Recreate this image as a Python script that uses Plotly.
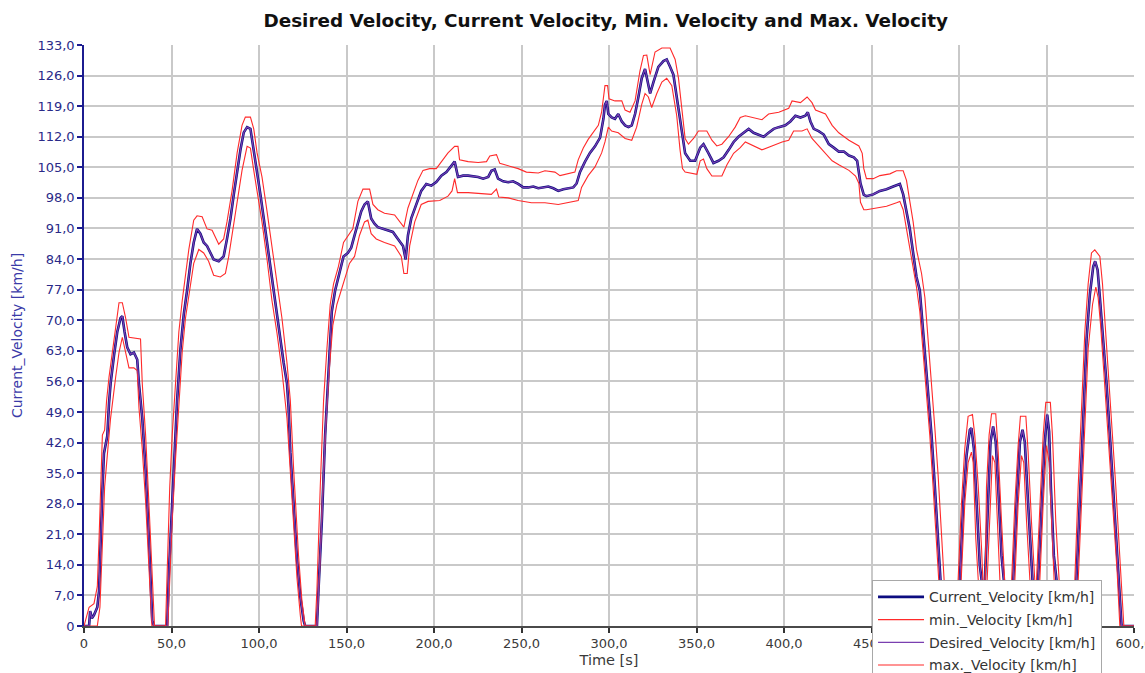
import plotly.graph_objects as go

# ---------------- data ----------------
current_time = [0, 2.9, 3.5, 4.5, 5.7, 7.6, 8.6, 9.5, 10.5, 11.4, 12.4, 13.3, 14.3, 15.2, 17.1, 19.0, 20.9, 21.9,
                23.2, 24.7, 26.6, 28.5, 30.4, 31.4, 33.3, 35.2, 37.1, 38.0, 39.0, 40.0, 47.5, 48.5, 49.8, 51.3,
                53.2, 55.1, 57.0, 58.9, 60.8, 62.7, 64.6, 66.5, 68.4, 70.3, 72.2, 74.1, 77.0, 79.8, 81.7, 83.7,
                85.6, 87.5, 89.4, 91.3, 93.2, 95.1, 97.0, 98.9, 100.8, 102.7, 104.6, 106.5, 108.4, 110.3, 112.2,
                114.1, 116.0, 116.9, 117.9, 119.8, 121.7, 123.6, 125.5, 126.4, 133.1, 134.0, 135.9, 137.8, 139.7,
                141.6, 143.5, 145.4, 148.3, 150.8, 152.7, 154.6, 156.5, 158.4, 160.3, 162.2, 164.1, 166.0, 167.9,
                170.8, 173.7, 176.5, 179.4, 182.3, 183.8, 185.1, 187.0, 189.9, 192.7, 195.6, 198.5, 201.3, 204.2,
                207.1, 210.0, 211.8, 213.7, 216.6, 219.5, 222.4, 225.2, 228.1, 231.0, 232.8, 234.7, 236.6, 239.5,
                242.4, 245.2, 248.1, 251.0, 253.9, 256.7, 259.6, 262.4, 265.3, 268.2, 271.0, 273.9, 276.8, 279.6,
                281.5, 283.4, 286.3, 289.1, 292.0, 294.9, 296.8, 297.7, 298.7, 299.6, 301.5, 303.4, 305.3, 307.3,
                309.2, 311.1, 313.0, 314.9, 316.8, 318.7, 320.6, 321.6, 323.5, 325.4, 328.2, 331.1, 333.0, 334.9,
                336.8, 338.7, 340.6, 342.0, 343.5, 346.4, 349.2, 352.1, 354.0, 356.9, 359.7, 362.6, 365.5, 368.4,
                371.2, 374.0, 376.9, 379.8, 382.6, 385.5, 388.4, 391.2, 394.1, 397.0, 400.8, 403.6, 406.5, 409.4,
                412.2, 413.6, 415.1, 417.0, 419.8, 422.7, 425.6, 428.4, 431.3, 434.2, 437.1, 439.9, 441.8, 443.7,
                445.6, 447.1, 451.0, 454.8, 458.6, 462.4, 465.2, 466.2, 468.1, 470.0, 471.9, 473.8, 475.7, 477.6,
                478.6, 480.5, 482.4, 484.3, 486.2, 488.1, 489.4, 491.0, 499.0, 500.5, 502.4, 504.3, 506.2, 507.1,
                508.5, 510.0, 511.9, 512.9, 513.8, 514.8, 516.7, 518.0, 519.5, 521.0, 522.4, 524.3, 525.6, 527.0,
                529.5, 531.0, 532.9, 534.8, 536.3, 537.6, 539.5, 541.4, 542.5, 543.5, 545.2, 547.1, 549.0, 550.4,
                551.5, 552.5, 554.2, 555.7, 557.0, 565.5, 567.1, 569.0, 571.0, 572.9, 574.8, 576.7, 577.8, 579.2,
                580.5, 582.4, 584.3, 586.2, 588.1, 590.0, 591.9, 592.9, 600.0]
current_velocity = [0, 0, 3.4, 1.8, 2.5, 4.3, 8.0, 20.0, 31.0, 39.5, 41.7, 43.5, 51.0, 55.5, 61.8, 67.3, 70.5, 70.9,
                    67.3, 63.8, 62.2, 62.6, 61.0, 55.5, 47.6, 35.8, 20.0, 12.2, 1.2, 0, 0, 12.2, 24.0, 36.6,
                    51.6, 63.4, 71.3, 76.8, 83.0, 87.8, 90.9, 89.8, 87.8, 87.0, 85.4, 83.9, 83.5, 84.6, 88.6, 93.3,
                    98.8, 104.3, 109.0, 113.0, 114.2, 113.8, 109.0, 103.5, 98.8, 93.3, 87.8, 81.5, 76.8, 71.3, 65.7,
                    60.2, 55.5, 50.0, 39.8, 28.0, 15.4, 6.7, 1.2, 0, 0, 8.3, 24.0, 43.7, 59.4,
                    72.0, 76.8, 79.9, 84.6, 85.4, 86.6, 89.4, 92.5, 94.9, 96.5, 97.2, 93.3, 92.1, 91.3,
                    90.9, 90.6, 90.2, 88.6, 87.0, 83.9, 89.4, 93.3, 96.5, 99.6, 101.2, 100.8, 101.6, 103.1,
                    103.9, 105.5, 106.3, 102.8, 103.1, 103.1, 102.9, 102.8, 102.4, 102.8, 104.2, 104.5, 102.4, 101.8,
                    101.6, 101.8, 101.2, 100.4, 100.4, 100.6, 100.2, 100.4, 100.6, 100.2, 99.6, 100.0, 100.2, 100.4,
                    101.3, 103.9, 106.3, 108.3, 109.8, 111.8, 116.1, 119.3, 120.2, 117.2, 116.4, 116.1, 117.2, 115.5,
                    114.6, 114.2, 114.6, 117.2, 121.1, 125.4, 127.5, 125.8, 121.9, 124.5, 128.0, 129.3, 129.7, 128.0,
                    126.2, 121.1, 115.9, 111.6, 108.2, 106.5, 106.5, 109.5, 110.3, 108.2, 106.0, 106.5, 107.3, 109.0,
                    110.8, 112.0, 112.9, 113.8, 112.9, 112.5, 112.0, 112.9, 113.8, 114.2, 114.6, 115.5, 116.8, 116.4,
                    116.8, 117.6, 115.5, 113.8, 113.3, 112.5, 110.3, 109.5, 108.6, 108.6, 107.7, 107.3, 106.5, 101.3,
                    98.7, 98.4, 98.8, 99.6, 100.0, 100.6, 101.0, 101.2, 98.8, 94.9, 90.9, 85.4, 79.9, 76.8,
                    72.0, 62.6, 53.1, 43.7, 31.9, 20.0, 10.6, 0, 0, 10.6, 28.0, 39.0, 44.9, 45.3,
                    40.6, 28.0, 13.8, 10.6, 0, 10.6, 31.9, 42.1, 45.7, 42.1, 31.9, 16.1, 10.6, 0,
                    0, 10.6, 28.0, 42.1, 44.9, 42.1, 28.0, 13.8, 5.0, 0, 10.6, 28.0, 42.1, 48.4,
                    44.5, 31.9, 16.1, 10.6, 0, 0, 10.6, 28.0, 47.6, 65.7, 76.0, 82.3, 83.5, 81.5,
                    75.2, 65.7, 55.5, 43.7, 31.9, 20.0, 8.3, 0, 0]

# desired velocity lies on top of the current velocity in the picture
desired_time = list(current_time)
desired_velocity = list(current_velocity)

min_time = [0, 7.6, 9.1, 10.5, 11.8, 13.3, 15.2, 18.1, 20.0, 21.9, 23.8, 25.7, 28.5, 30.4, 31.4, 33.3, 35.2, 37.1,
            38.5, 38.8, 47.9, 49.0, 50.4, 52.3, 54.2, 56.1, 58.0, 59.9, 62.7, 65.6, 68.4, 71.2, 74.1, 77.9, 80.8,
            82.7, 84.6, 87.5, 90.3, 93.2, 95.1, 97.0, 98.9, 101.7, 104.6, 107.4, 110.3, 113.1, 116.0, 117.9, 119.8,
            121.7, 123.6, 124.3, 133.1, 134.6, 136.5, 138.4, 140.3, 142.2, 144.5, 148.3, 151.7, 154.6, 157.4,
            160.3, 162.2, 164.1, 167.0, 171.7, 177.5, 181.3, 182.8, 184.7, 186.1, 189.0, 192.7, 196.6, 203.3,
            208.0, 210.3, 211.8, 213.4, 219.5, 225.2, 232.8, 235.7, 237.0, 242.4, 248.1, 255.7, 263.4, 271.0,
            282.4, 284.3, 288.1, 292.0, 295.8, 297.7, 299.6, 301.5, 305.3, 309.2, 313.0, 315.8, 318.7, 320.6,
            322.5, 324.4, 327.3, 330.2, 333.0, 335.9, 338.7, 340.6, 342.0, 343.5, 350.2, 352.1, 354.0, 355.9,
            358.8, 364.5, 367.4, 371.2, 375.0, 377.9, 382.6, 387.4, 393.1, 398.9, 402.7, 405.5, 410.3, 413.2,
            416.0, 419.8, 423.7, 427.5, 431.3, 437.1, 440.9, 442.8, 443.7, 445.6, 447.1, 452.9, 458.6, 464.3,
            466.2, 468.1, 470.0, 471.9, 473.8, 475.7, 477.6, 479.5, 481.4, 483.3, 485.2, 487.1, 488.7, 490.0,
            500.0, 501.4, 503.3, 505.2, 507.1, 508.1, 509.6, 511.0, 512.0, 515.0, 516.1, 517.6, 519.1, 520.5,
            521.8, 523.3, 524.5, 530.8, 531.9, 533.8, 535.7, 537.0, 538.6, 540.5, 541.5, 545.2, 546.2, 548.1,
            550.0, 551.5, 552.9, 554.4, 555.5, 567.0, 568.1, 570.0, 571.9, 573.8, 576.3, 578.2, 579.5, 580.9,
            582.8, 584.7, 586.6, 588.5, 590.4, 591.9, 600.0]
min_velocity = [0, 0, 4.3, 20.0, 31.9, 39.0, 47.6, 57.0, 62.6, 66.1, 62.6, 59.1, 59.1, 58.5, 50.0, 40.5, 28.5, 12.5,
                1.0, 0, 0, 12.2, 24.0, 38.2, 51.6, 62.6, 70.5, 76.0, 83.0, 86.2, 85.4, 83.5, 80.3, 79.9, 80.7,
                84.6, 89.4, 97.2, 104.3, 109.8, 109.4, 104.3, 99.6, 92.5, 83.9, 74.5, 67.0, 58.5, 47.5, 36.0, 23.5,
                11.0, 2.5, 0, 0, 12.2, 31.9, 47.6, 59.4, 68.9, 73.6, 78.3, 83.0, 84.6, 89.4,
                92.5, 92.9, 89.8, 88.6, 87.8, 87.0, 84.6, 80.7, 80.7, 87.0, 92.5, 96.5, 97.2, 97.4,
                98.4, 99.6, 102.4, 99.2, 99.2, 99.0, 98.8, 100.0, 98.2, 98.0, 97.4, 96.9, 96.9, 96.5,
                97.4, 100.4, 103.1, 105.1, 108.3, 110.8, 114.2, 113.3, 112.9, 111.6, 111.2, 114.2, 119.4, 121.9,
                121.1, 118.7, 121.9, 124.5, 125.4, 123.7, 116.8, 109.0, 104.7, 103.9, 103.4, 106.5, 106.9, 104.7,
                103.0, 103.0, 105.6, 108.2, 109.5, 110.8, 109.9, 109.0, 109.9, 110.8, 111.2, 113.3, 113.3, 113.8,
                111.6, 109.9, 108.2, 106.5, 105.6, 104.3, 103.0, 101.3, 97.0, 95.3, 95.3, 95.7, 96.1, 96.9,
                97.2, 95.3, 90.9, 86.2, 81.5, 77.6, 72.0, 62.6, 53.1, 43.7, 31.9, 20.0, 10.6, 0,
                0, 10.6, 28.0, 37.4, 39.8, 37.4, 20.0, 10.6, 0, 0, 10.6, 28.0, 39.0, 37.4,
                24.0, 10.6, 0, 0, 10.6, 28.0, 39.0, 37.4, 24.0, 10.6, 0, 0, 10.6, 28.0,
                41.3, 37.4, 24.0, 10.6, 0, 0, 10.6, 28.0, 47.6, 63.4, 73.6, 77.6, 75.2, 68.9,
                57.9, 46.9, 35.8, 24.0, 12.2, 0, 0]

max_time = [0, 2.9, 5.7, 7.6, 8.6, 9.5, 10.5, 11.8, 12.9, 14.3, 16.2, 18.1, 20.0, 21.9, 23.8, 25.7, 28.5, 32.3,
            33.3, 35.2, 37.1, 39.0, 40.3, 46.6, 47.5, 49.0, 50.4, 52.3, 54.2, 56.1, 58.0, 59.9, 62.7, 64.6, 67.5,
            70.3, 73.2, 77.0, 79.8, 81.7, 84.6, 87.5, 90.3, 92.2, 95.1, 97.0, 98.9, 101.7, 104.6, 107.4, 110.3,
            113.1, 116.0, 117.9, 119.8, 122.6, 124.5, 126.4, 132.1, 133.1, 135.0, 136.9, 138.8, 140.7, 142.6,
            145.4, 148.3, 151.7, 153.6, 156.5, 159.4, 163.2, 165.1, 167.9, 171.7, 177.5, 181.3, 182.8, 185.1,
            188.0, 190.8, 193.7, 197.5, 201.3, 204.2, 208.0, 211.8, 213.7, 214.6, 219.5, 225.2, 230.0, 231.9,
            235.7, 237.6, 242.4, 248.1, 252.8, 259.6, 263.4, 269.1, 272.0, 280.5, 282.4, 285.3, 288.1, 291.0,
            293.9, 295.8, 297.7, 299.2, 300.0, 303.4, 307.3, 309.2, 312.0, 314.9, 317.7, 319.7, 321.6, 323.5,
            326.3, 330.2, 334.9, 337.8, 339.7, 341.6, 343.5, 345.4, 348.3, 351.1, 355.9, 358.8, 361.6, 364.5,
            368.3, 372.1, 375.0, 377.9, 382.6, 387.4, 391.2, 397.0, 402.7, 404.6, 409.4, 413.2, 416.0, 418.0,
            423.7, 427.5, 431.3, 437.1, 442.8, 444.7, 445.6, 447.1, 451.0, 454.8, 460.5, 464.3, 468.1, 470.0,
            471.9, 473.8, 475.7, 478.6, 480.5, 482.4, 484.3, 486.2, 488.1, 490.0, 491.3, 493.0, 498.0, 499.5,
            501.4, 503.3, 505.2, 507.7, 509.0, 511.0, 512.9, 513.8, 514.2, 515.0, 515.7, 517.2, 518.6, 521.0,
            522.4, 524.3, 526.2, 527.5, 529.0, 530.0, 531.9, 533.8, 535.1, 538.2, 539.5, 541.4, 543.3, 543.8,
            544.3, 546.2, 548.1, 549.6, 552.2, 553.4, 555.3, 557.2, 558.5, 564.5, 566.2, 568.1, 570.0, 571.9,
            573.8, 575.7, 577.6, 580.5, 582.0, 583.9, 585.8, 587.7, 589.6, 591.5, 593.0, 594.2, 600.0]
max_velocity = [0, 4.3, 5.1, 9.0, 20.0, 31.9, 43.7, 44.9, 51.6, 57.0, 62.6, 68.9, 74.0, 74.0, 70.5, 66.1, 65.9, 65.7,
                55.5, 43.7, 28.0, 12.2, 0, 0, 12.0, 31.9, 43.7, 57.0, 67.3, 74.4, 80.7, 86.2, 92.9, 93.9, 93.7,
                90.9, 90.6, 87.4, 88.6, 92.5, 99.6, 108.3, 114.6, 116.5, 116.5, 113.8, 108.3, 102.8, 94.9, 87.0, 78.3,
                70.5, 60.2, 51.6, 35.8, 16.1, 5.9, 0, 0, 8.3, 31.9, 51.6, 63.4, 73.6, 78.3,
                82.3, 87.8, 89.8, 90.9, 97.2, 100.0, 100.0, 96.5, 95.3, 94.5, 94.1, 92.1, 91.3, 95.7,
                98.8, 102.0, 104.3, 104.7, 104.7, 106.3, 108.3, 109.8, 109.8, 106.7, 106.3, 106.1, 106.3, 107.6,
                107.9, 105.9, 105.3, 104.7, 103.9, 103.7, 104.2, 103.9, 103.1, 103.9, 106.7, 109.4, 111.4, 113.0,
                114.6, 117.7, 123.7, 123.7, 120.7, 120.2, 120.2, 118.1, 117.6, 120.2, 127.1, 130.6, 130.7, 126.2,
                131.4, 132.3, 132.3, 129.7, 125.4, 118.5, 111.6, 110.3, 111.6, 113.3, 113.3, 111.2, 109.9, 110.3,
                112.0, 114.2, 116.4, 116.8, 116.4, 115.9, 117.2, 117.6, 118.5, 120.2, 119.8, 121.1, 119.8, 118.1,
                117.2, 114.6, 112.9, 111.2, 109.9, 108.2, 104.7, 102.4, 102.4, 103.1, 103.5, 104.2, 104.2, 102.0,
                97.2, 92.5, 86.2, 80.7, 75.2, 65.7, 55.5, 45.3, 34.3, 21.7, 10.6, 0, 0, 10.6,
                28.0, 40.6, 48.0, 48.4, 43.7, 31.9, 17.7, 10.6, 5.0, 10.6, 31.9, 43.7, 48.6, 48.6,
                39.8, 24.0, 10.6, 0, 0, 10.6, 28.0, 41.3, 48.0, 48.0, 39.8, 24.0, 10.6, 7.0,
                10.6, 28.0, 43.7, 51.2, 51.2, 43.7, 24.0, 10.6, 0, 0, 10.6, 31.9, 51.6, 67.3,
                78.3, 85.4, 86.1, 84.6, 78.3, 67.3, 55.5, 43.7, 31.9, 18.5, 7.5, 0, 0]

series_names = ["Current_Velocity [km/h]", "min._Velocity [km/h]",
                "Desired_Velocity [km/h]", "max._Velocity [km/h]"]

x_tick_vals = [0, 50, 100, 150, 200, 250, 300, 350, 400, 450, 500, 550, 600]
x_tick_text = ["0", "50,0", "100,0", "150,0", "200,0", "250,0", "300,0", "350,0",
               "400,0", "450,0", "500,0", "550,0", "600,0"]
y_tick_vals = [0, 7, 14, 21, 28, 35, 42, 49, 56, 63, 70, 77, 84, 91, 98, 105, 112, 119, 126, 133]
y_tick_text = ["0", "7,0", "14,0", "21,0", "28,0", "35,0", "42,0", "49,0", "56,0", "63,0", "70,0",
               "77,0", "84,0", "91,0", "98,0", "105,0", "112,0", "119,0", "126,0", "133,0"]

# ---------------- figure ----------------
FONT = "DejaVu Sans"
fig = go.Figure()
fig.add_trace(go.Scatter(x=current_time, y=current_velocity, mode="lines", name=series_names[0],
                         legendgroup="g1", line=dict(color="#0c0c80", width=2.6)))
fig.add_trace(go.Scatter(x=min_time, y=min_velocity, mode="lines", name=series_names[1],
                         legendgroup="g2", line=dict(color="#ff2a2a", width=1.1)))
fig.add_trace(go.Scatter(x=desired_time, y=desired_velocity, mode="lines", name=series_names[2],
                         legendgroup="g3", line=dict(color="#7a3fb0", width=1.2)))
fig.add_trace(go.Scatter(x=max_time, y=max_velocity, mode="lines", name=series_names[3],
                         legendgroup="g4", line=dict(color="#ff2a2a", width=1.1)))

fig.update_layout(
    width=1145, height=673,
    paper_bgcolor="white", plot_bgcolor="white",
    margin=dict(l=84, r=11, t=45, b=47, autoexpand=False),
    title=dict(text="Desired Velocity, Current Velocity, Min. Velocity and Max. Velocity",
               x=0.529, xanchor="center", y=0.969, yanchor="middle",
               font=dict(family=FONT, size=18.4, color="#111111", weight="bold")),
    font=dict(family=FONT, size=13),
    showlegend=True,
    legend=dict(x=0.7505, y=0.0787, xanchor="left", yanchor="top",
                bgcolor="white", bordercolor="#a8a8a8", borderwidth=1,
                font=dict(family=FONT, size=14, color="#333333"),
                tracegroupgap=1.5, itemwidth=46),
    xaxis=dict(range=[0, 600], tickmode="array", tickvals=x_tick_vals, ticktext=x_tick_text,
               ticklabeloverflow="allow",
               showgrid=True, gridcolor="#c9c9c9", gridwidth=1.5,
               showline=True, linecolor="#4a4a4a", linewidth=1.5,
               ticks="outside", ticklen=5, tickcolor="#333333", tickwidth=1.5,
               zeroline=False,
               tickfont=dict(family=FONT, size=13, color="#3a3a3a"),
               title=dict(text="Time [s]", font=dict(family=FONT, size=14.5, color="#3a3a3a"), standoff=5)),
    yaxis=dict(range=[0, 133], tickmode="array", tickvals=y_tick_vals, ticktext=y_tick_text,
               showgrid=True, gridcolor="#c9c9c9", gridwidth=1.5,
               showline=True, linecolor="#1c1c90", linewidth=1.5,
               ticks="outside", ticklen=5, tickcolor="#1c1c90", tickwidth=1.5,
               zeroline=False,
               tickfont=dict(family=FONT, size=13, color="#2a2a88"),
               title=dict(text="Current_Velocity [km/h]", font=dict(family=FONT, size=14, color="#3a3aa8"),
                          standoff=12)),
)

fig.write_html("out.html",
               config={"displayModeBar": False},
               post_script="document.body.style.margin='0px';"
                           "document.documentElement.style.overflow='hidden';")
